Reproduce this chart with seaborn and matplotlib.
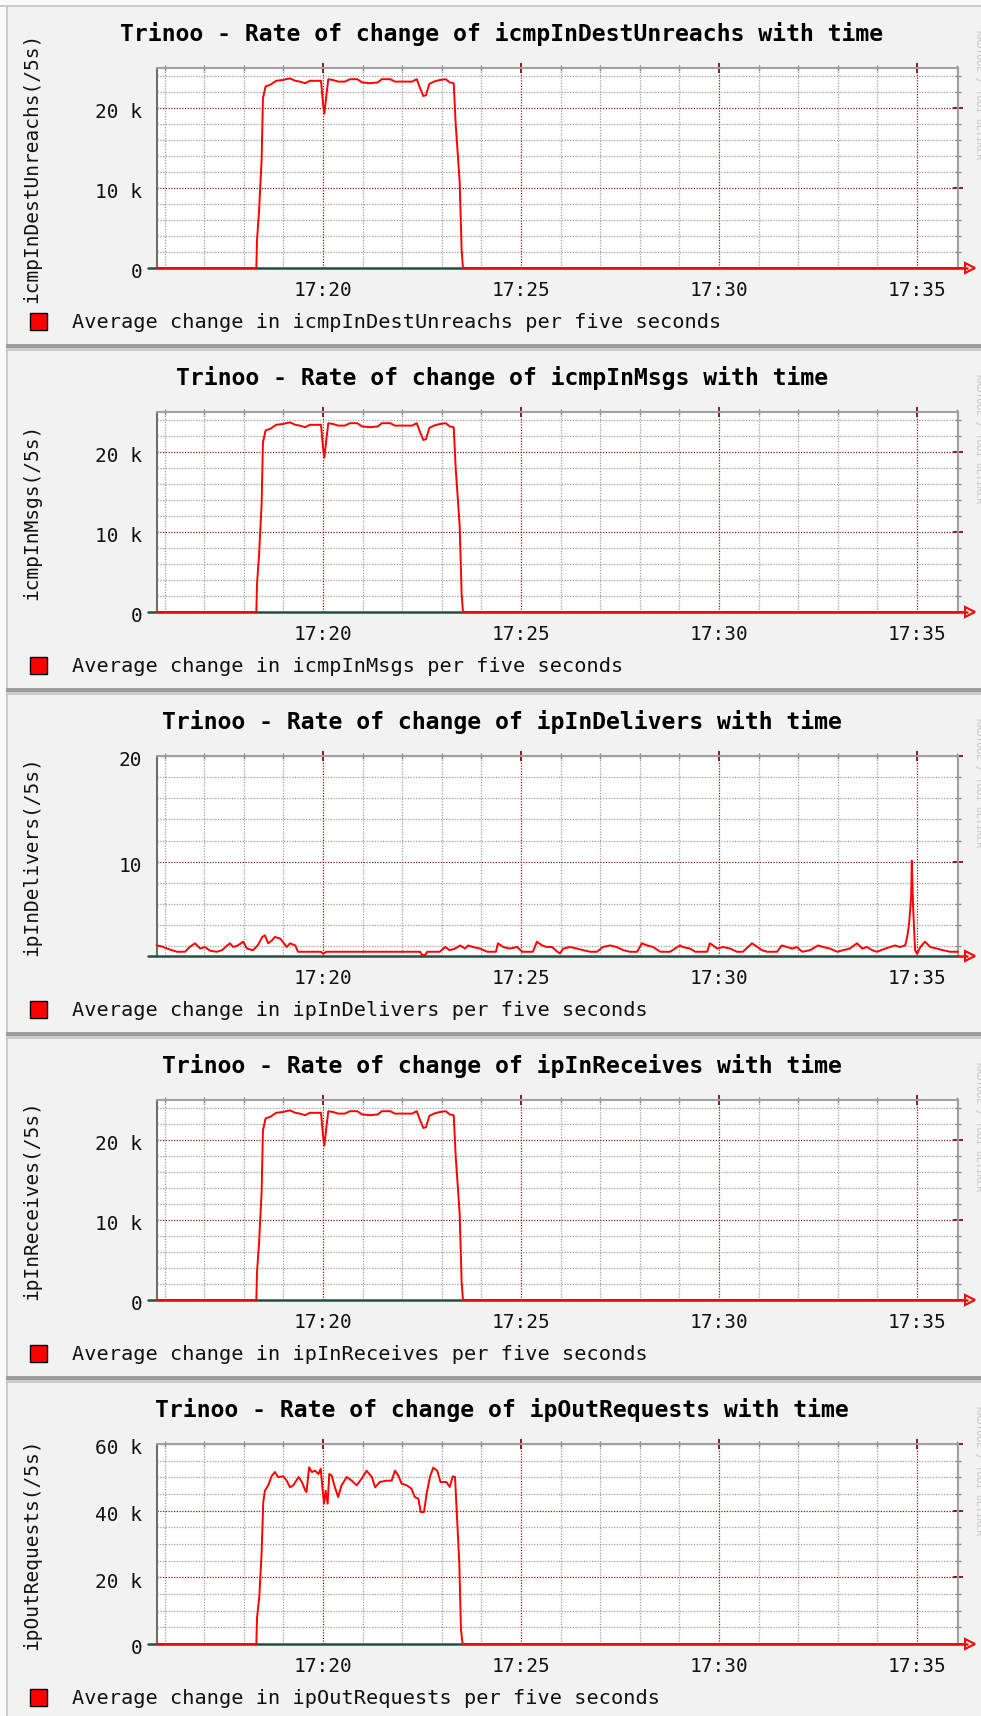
import pandas as pd
import matplotlib
matplotlib.use("Agg")
import matplotlib.pyplot as plt
import matplotlib.dates as mdates
from matplotlib.patches import Rectangle
from matplotlib.lines import Line2D
from matplotlib.ticker import FuncFormatter, MultipleLocator, FixedLocator
from matplotlib.transforms import ScaledTranslation
import seaborn as sns

# ---------------------------------------------------------------- data
# times are seconds after 17:00:00, values are average change per 5 s
T0 = pd.Timestamp("2000-01-01 17:00:00")
VIEW_START, VIEW_END = 948.5, 2162

flood_secs = [948, 1099, 1100, 1103, 1107, 1109, 1113, 1120, 1129, 1139,
              1150, 1158, 1165, 1173, 1180, 1189, 1197, 1200, 1202, 1205,
              1208, 1215, 1223, 1233, 1241, 1252, 1259, 1271, 1283, 1289,
              1302, 1309, 1324, 1335, 1342, 1347, 1352, 1356, 1361, 1368,
              1377, 1386, 1392, 1398, 1401, 1407, 1410, 1412, 2162]

icmp_in_dest_unreachs = [0, 0, 3500, 7000, 13500, 21200, 22700, 22900, 23400, 23500,
                         23700, 23400, 23300, 23100, 23400, 23400, 23400, 20500, 19300, 21500,
                         23600, 23500, 23300, 23300, 23600, 23600, 23200, 23100, 23200, 23600,
                         23600, 23300, 23300, 23300, 23600, 22500, 21500, 21600, 23000, 23300,
                         23500, 23600, 23200, 23100, 18000, 10800, 2300, 0, 0]

icmp_in_msgs = [0, 0, 3500, 7000, 13500, 21200, 22700, 22900, 23400, 23500,
                23700, 23400, 23300, 23100, 23400, 23400, 23400, 20500, 19300, 21500,
                23600, 23500, 23300, 23300, 23600, 23600, 23200, 23100, 23200, 23600,
                23600, 23300, 23300, 23300, 23600, 22500, 21500, 21600, 23000, 23300,
                23500, 23600, 23200, 23100, 18000, 10800, 2300, 0, 0]

ip_in_receives = [0, 0, 3500, 7000, 13500, 21200, 22700, 22900, 23400, 23500,
                  23700, 23400, 23300, 23100, 23400, 23400, 23400, 20500, 19300, 21500,
                  23600, 23500, 23300, 23300, 23600, 23600, 23200, 23100, 23200, 23600,
                  23600, 23300, 23300, 23300, 23600, 22500, 21500, 21600, 23000, 23300,
                  23500, 23600, 23200, 23100, 18000, 10800, 2300, 0, 0]

deliv_secs = [948, 956, 964, 971, 979, 991, 998, 1006, 1014, 1021,
              1029, 1039, 1047, 1055, 1059, 1064, 1071, 1079, 1085, 1094,
              1101, 1108, 1112, 1117, 1123, 1127, 1135, 1139, 1145, 1150,
              1158, 1162, 1197, 1200, 1205, 1347, 1350, 1355, 1358, 1377,
              1385, 1392, 1400, 1408, 1415, 1420, 1427, 1438, 1449, 1462,
              1465, 1473, 1483, 1494, 1502, 1518, 1524, 1532, 1539, 1547,
              1555, 1559, 1564, 1574, 1585, 1594, 1605, 1615, 1624, 1635,
              1645, 1655, 1665, 1676, 1683, 1691, 1700, 1711, 1726, 1733,
              1741, 1745, 1756, 1764, 1782, 1786, 1791, 1797, 1806, 1817,
              1827, 1836, 1844, 1850, 1858, 1865, 1873, 1888, 1895, 1903,
              1911, 1918, 1926, 1938, 1950, 1958, 1968, 1979, 1988, 1998,
              2009, 2017, 2024, 2032, 2039, 2052, 2059, 2067, 2074, 2082,
              2085, 2088, 2091, 2092, 2094, 2097, 2100, 2105, 2112, 2120,
              2130, 2139, 2150, 2162]

ip_in_delivers = [2.1, 2.0, 1.8, 1.65, 1.5, 1.5, 1.95, 2.3, 1.8, 1.95,
                  1.6, 1.5, 1.65, 2.1, 2.3, 1.95, 2.1, 2.45, 1.8, 1.65,
                  2.1, 2.9, 3.05, 2.3, 2.6, 2.9, 2.75, 2.45, 1.95, 2.3,
                  2.1, 1.5, 1.5, 1.3, 1.5, 1.5, 1.2, 1.2, 1.5, 1.5,
                  1.95, 1.65, 1.8, 2.1, 1.8, 2.1, 1.95, 1.8, 1.5, 1.5,
                  2.3, 1.95, 1.8, 1.95, 1.5, 1.5, 2.45, 2.1, 1.95, 1.95,
                  1.5, 1.35, 1.8, 1.95, 1.8, 1.65, 1.5, 1.5, 1.95, 2.1,
                  1.95, 1.65, 1.5, 1.5, 2.3, 2.1, 1.95, 1.5, 1.5, 1.8,
                  2.1, 1.95, 1.8, 1.5, 1.5, 2.3, 2.1, 1.8, 1.95, 1.8,
                  1.5, 1.5, 1.95, 2.3, 1.95, 1.65, 1.5, 1.5, 2.1, 1.95,
                  1.8, 1.95, 1.5, 1.65, 2.1, 1.95, 1.8, 1.5, 1.65, 1.8,
                  2.3, 1.8, 1.95, 1.65, 1.5, 1.8, 1.95, 2.1, 1.95, 2.1,
                  2.9, 4.2, 6.7, 10.1, 5.7, 1.65, 1.3, 1.95, 2.45, 1.95,
                  1.8, 1.65, 1.5, 1.5]

out_secs = [948, 1099, 1100, 1103.5, 1107, 1109.5, 1112, 1117, 1122, 1127,
            1132, 1140, 1145, 1150, 1155, 1163, 1168, 1173, 1175, 1179,
            1183, 1188, 1193, 1196.5, 1199.5, 1201.5, 1204, 1207, 1209.5, 1213,
            1218, 1223, 1228, 1236, 1243.5, 1251, 1258.5, 1266, 1274, 1279,
            1286, 1296.5, 1304, 1309, 1314, 1319, 1327, 1334, 1339, 1344.5,
            1348, 1353, 1357, 1362, 1367, 1373, 1378, 1387, 1392, 1396.5,
            1400, 1402.5, 1406.5, 1409, 1411.5, 2162]

ip_out_requests = [0, 0, 7800, 14200, 27400, 42600, 46000, 47600, 50300, 51600,
                   50100, 50300, 49000, 47000, 47600, 50100, 48600, 46100, 45600, 53000,
                   51600, 52000, 51000, 52600, 46100, 42100, 46000, 42100, 51000, 50600,
                   47000, 44100, 47600, 50100, 49000, 47600, 49600, 52000, 50100, 47000,
                   48600, 49000, 49000, 52000, 50600, 48100, 47600, 46600, 44100, 43600,
                   39600, 39600, 45100, 50100, 52900, 52000, 48600, 48600, 47100, 50300,
                   50100, 40100, 24200, 4300, 0, 0]

x_tick_minutes = [20, 25, 30, 35]

panels = [
    dict(name="icmpInDestUnreachs", secs=flood_secs, vals=icmp_in_dest_unreachs,
         ylim=(0, 25000), majors=[0, 10000, 20000], minor=2000, kilo=True),
    dict(name="icmpInMsgs", secs=flood_secs, vals=icmp_in_msgs,
         ylim=(0, 25000), majors=[0, 10000, 20000], minor=2000, kilo=True),
    dict(name="ipInDelivers", secs=deliv_secs, vals=ip_in_delivers,
         ylim=(1.1, 20), majors=[10, 20], minor=2, kilo=False),
    dict(name="ipInReceives", secs=flood_secs, vals=ip_in_receives,
         ylim=(0, 25000), majors=[0, 10000, 20000], minor=2000, kilo=True),
    dict(name="ipOutRequests", secs=out_secs, vals=ip_out_requests,
         ylim=(0, 60000), majors=[0, 20000, 40000, 60000], minor=5000, kilo=True),
]

# ---------------------------------------------------------------- style
W, H, DPI = 981, 1716, 100
PANEL_H = 344
BACK = "#f2f2f2"
MGRID = "#821e1e"
GRID = "#8c8c8c"
AXIS = "#2c4d43"
ARROW = "#ff0000"
TEXT = "#111111"

sns.set_style("white")
plt.rcParams["font.family"] = ["DejaVu Sans Mono", "DejaVu Sans"]
plt.rcParams["lines.scale_dashes"] = True


def fx(px):
    return px / W


def fy(py):
    return 1 - py / H


def kilo_fmt(v, _pos):
    return "0" if v == 0 else f"{v / 1000:.0f} k"


def plain_fmt(v, _pos):
    return f"{v:.0f}"


fig = plt.figure(figsize=(W / DPI, H / DPI), dpi=DPI, facecolor=BACK)

# outer shading of the stacked graph images
fig.add_artist(Rectangle((0, fy(H)), fx(6), 1, transform=fig.transFigure,
                         facecolor="#fafafa", edgecolor="none", zorder=0))
fig.add_artist(Rectangle((0, fy(5)), 1, 5 / H, transform=fig.transFigure,
                         facecolor="#fafafa", edgecolor="none", zorder=0))
fig.add_artist(Rectangle((0, fy(7)), 1, 2 / H, transform=fig.transFigure,
                         facecolor="#cbcbcb", edgecolor="none", zorder=1))
fig.add_artist(Rectangle((fx(6), 0), fx(2), fy(5), transform=fig.transFigure,
                         facecolor="#cbcbcb", edgecolor="none", zorder=1))
for k in range(len(panels) - 1):
    y0 = PANEL_H * (k + 1)
    fig.add_artist(Rectangle((fx(6), fy(y0 + 4)), 1, 4 / H, transform=fig.transFigure,
                             facecolor="#9c9c9c", edgecolor="none", zorder=1))
    fig.add_artist(Rectangle((fx(6), fy(y0 + 7)), 1, 3 / H, transform=fig.transFigure,
                             facecolor="#cbcbcb", edgecolor="none", zorder=1))

for k, p in enumerate(panels):
    off = k * PANEL_H
    ax = fig.add_axes([fx(157), fy(268 + off), fx(958) - fx(157), 200 / H])
    ax.set_facecolor("white")
    ax.set_axisbelow(True)

    df = pd.DataFrame({
        "time": T0 + pd.to_timedelta(p["secs"], unit="s"),
        "rate": p["vals"],
    })
    sns.lineplot(data=df, x="time", y="rate", ax=ax, color=ARROW, lw=1.4,
                 clip_on=False, zorder=6)

    ax.set_xlim((T0 + pd.Timedelta(seconds=VIEW_START)).to_pydatetime(),
                (T0 + pd.Timedelta(seconds=VIEW_END)).to_pydatetime())
    ax.set_ylim(*p["ylim"])

    ax.xaxis.set_major_locator(mdates.MinuteLocator(byminute=x_tick_minutes))
    ax.xaxis.set_major_formatter(mdates.DateFormatter("%H:%M"))
    ax.xaxis.set_minor_locator(mdates.MinuteLocator())
    ax.yaxis.set_major_locator(FixedLocator(p["majors"]))
    ax.yaxis.set_minor_locator(MultipleLocator(p["minor"]))
    ax.yaxis.set_major_formatter(FuncFormatter(kilo_fmt if p["kilo"] else plain_fmt))

    ax.grid(which="minor", color=GRID, linestyle=(0, (1, 1.2)), lw=0.9, alpha=0.85)
    ax.grid(which="major", color=MGRID, linestyle=(0, (1, 1.2)), lw=0.9)

    ax.tick_params(which="major", direction="inout", length=7, width=1.4,
                   color=MGRID, top=True, right=True, labelsize=14,
                   labelcolor=TEXT)
    ax.tick_params(which="minor", direction="inout", length=4.3, width=1.0,
                   color=GRID, top=True, right=True)
    ax.tick_params(axis="x", which="major", pad=5.5)
    ax.tick_params(axis="y", which="major", pad=7)
    for lab in ax.get_yticklabels():
        lab.set_transform(lab.get_transform() +
                          ScaledTranslation(0, -2 / 72, fig.dpi_scale_trans))

    ax.set_xlabel("")
    ax.set_ylabel("")
    ax.spines["left"].set_color("#6e6e6e")
    ax.spines["left"].set_linewidth(1.5)
    for side in ("top", "right"):
        ax.spines[side].set_color("#a0a0a0")
        ax.spines[side].set_linewidth(1.5)
    ax.spines["bottom"].set_visible(False)

    # x axis with arrow head
    ax.add_line(Line2D([-0.011, 1.0], [0, 0], transform=ax.transAxes,
                       color=AXIS, lw=1.8, clip_on=False, zorder=5))
    ax.add_line(Line2D([1.0, 1.011], [0, 0], transform=ax.transAxes,
                       color=ARROW, lw=1.8, clip_on=False, zorder=5))
    ax.add_line(Line2D([1.0155], [0], transform=ax.transAxes, marker=">",
                       markersize=7, markerfacecolor="none",
                       markeredgecolor=ARROW, markeredgewidth=1.5,
                       clip_on=False, zorder=5))

    # texts around the graph
    fig.text(fx(502), fy(34 + off), f"Trinoo - Rate of change of {p['name']} with time",
             ha="center", va="center", fontsize=16.7, fontweight="bold", color="#000000")
    fig.text(fx(32), fy(168 + off), f"{p['name']}(/5s)", rotation=90,
             ha="center", va="center", fontsize=14, color=TEXT)
    fig.add_artist(Rectangle((fx(30), fy(330 + off)), 17 / W, 17 / H,
                             transform=fig.transFigure, facecolor=ARROW,
                             edgecolor="#000000", lw=1.0, zorder=3))
    fig.text(fx(72), fy(322 + off), f"Average change in {p['name']} per five seconds",
             ha="left", va="center", fontsize=14.6, color=TEXT)
    fig.text(fx(979), fy(95 + off), "RRDTOOL / TOBI OETIKER", rotation=270,
             ha="center", va="center", fontsize=7, color="#c4c4c4")

fig.savefig("out.png", dpi=DPI, facecolor=BACK)
